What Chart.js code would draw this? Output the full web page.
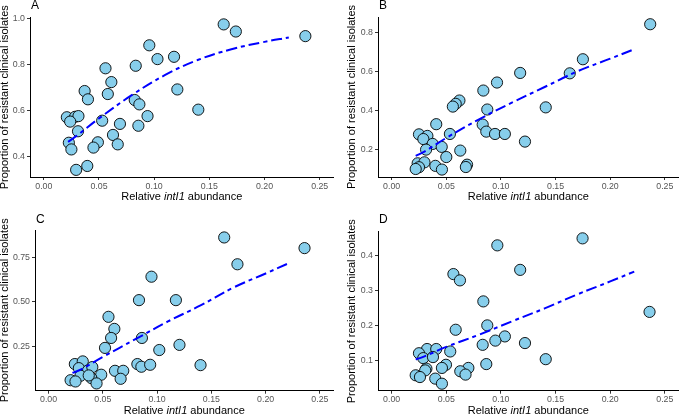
<!DOCTYPE html>
<html>
<head>
<meta charset="utf-8">
<script src="https://cdn.jsdelivr.net/npm/chart.js@4.4.1/dist/chart.umd.min.js"></script>
<style>
body { margin: 0; background: #fff; }
#wrap { position: relative; width: 685px; height: 415px; overflow: hidden; }
canvas { position: absolute; }
</style>
</head>
<body>
<div id="wrap">
  <canvas id="pA" width="340" height="205" style="left:0;top:0"></canvas>
  <canvas id="pB" width="345" height="205" style="left:340px;top:0"></canvas>
  <canvas id="pC" width="340" height="210" style="left:0;top:205px"></canvas>
  <canvas id="pD" width="345" height="210" style="left:340px;top:205px"></canvas>
</div>
<script>
"use strict";
var FONT = "'Liberation Sans', Arial, sans-serif";

// shared x axis
var xTicks = [0, 0.05, 0.10, 0.15, 0.20, 0.25];
var xTickLabels = ["0.00", "0.05", "0.10", "0.15", "0.20", "0.25"];
var fitX = [0.022, 0.03, 0.05, 0.08, 0.11, 0.14, 0.17, 0.20, 0.222];

// A
var aX = [0.163,0.174,0.237,0.0956,0.103,0.118,0.0833,0.0559,0.0612,0.121,0.037,0.058,0.040,0.0824,0.0866,0.140,0.0209,0.0284,0.0314,0.0239,0.0529,0.094,0.069,0.0857,0.031,0.0627,0.049,0.067,0.0227,0.025,0.045,0.0394,0.0293];
var aY = [0.974,0.943,0.923,0.883,0.823,0.833,0.794,0.783,0.723,0.691,0.684,0.671,0.648,0.645,0.626,0.603,0.570,0.572,0.575,0.551,0.555,0.575,0.541,0.533,0.509,0.493,0.461,0.452,0.459,0.430,0.438,0.358,0.341];
var aFit = [0.463, 0.49, 0.565, 0.667, 0.754, 0.82, 0.866, 0.898, 0.917];
var aTicks = [0.4, 0.6, 0.8, 1.0];
var aTickLabels = ["0.4", "0.6", "0.8", "1.0"];

// B
var bX = [0.2366,0.175,0.163,0.1176,0.0964,0.0839,0.062,0.0586,0.056,0.0875,0.141,0.0408,0.0833,0.0866,0.0946,0.1036,0.0533,0.025,0.0327,0.029,0.0375,0.0458,0.122,0.0315,0.0628,0.050,0.0238,0.030,0.025,0.022,0.040,0.046,0.069,0.0679];
var bY = [0.841,0.662,0.590,0.592,0.543,0.502,0.451,0.434,0.420,0.405,0.416,0.330,0.328,0.292,0.280,0.280,0.280,0.278,0.270,0.254,0.229,0.214,0.241,0.200,0.195,0.162,0.130,0.135,0.110,0.101,0.117,0.098,0.123,0.111];
var bFit = [0.168, 0.19, 0.26, 0.355, 0.44, 0.52, 0.60, 0.665, 0.713];
var bTicks = [0.2, 0.4, 0.6, 0.8];
var bTickLabels = ["0.2", "0.4", "0.6", "0.8"];

// C
var cX = [0.1618,0.2358,0.174,0.0948,0.0833,0.1173,0.0552,0.0606,0.0576,0.086,0.052,0.1206,0.102,0.0242,0.0315,0.0818,0.0855,0.0936,0.14,0.0279,0.0364,0.0403,0.0485,0.0612,0.0688,0.0294,0.0394,0.0664,0.0203,0.0248,0.0442,0.037];
var cY = [0.863,0.803,0.712,0.642,0.510,0.510,0.416,0.348,0.297,0.297,0.241,0.258,0.229,0.150,0.165,0.150,0.135,0.146,0.144,0.127,0.114,0.133,0.090,0.112,0.112,0.084,0.071,0.067,0.059,0.052,0.041,0.086];
var cFit = [0.10, 0.12, 0.19, 0.29, 0.39, 0.48, 0.58, 0.66, 0.72];
var cTicks = [0.25, 0.50, 0.75];
var cTickLabels = ["0.25", "0.50", "0.75"];

// D
var dX = [0.1747,0.0967,0.1176,0.0565,0.0625,0.0839,0.236,0.0875,0.0586,0.1036,0.0949,0.122,0.0833,0.0536,0.0324,0.0408,0.025,0.0289,0.0378,0.141,0.0866,0.0497,0.046,0.0702,0.0318,0.0307,0.0628,0.0676,0.022,0.0259,0.0399,0.046];
var dY = [0.450,0.430,0.360,0.348,0.330,0.270,0.240,0.2015,0.189,0.170,0.158,0.151,0.146,0.127,0.134,0.134,0.122,0.108,0.111,0.105,0.091,0.089,0.080,0.080,0.078,0.073,0.0705,0.061,0.059,0.054,0.0495,0.035];
var dFit = [0.104, 0.113, 0.14, 0.175, 0.213, 0.25, 0.29, 0.327, 0.355];
var dTicks = [0.1, 0.2, 0.3, 0.4];
var dTickLabels = ["0.1", "0.2", "0.3", "0.4"];

// panel letter + x title (italic gene name)
var panelText = {
    id: "panelText",
    afterDraw: function(chart, args, o) {
        var c = chart.ctx, a = chart.chartArea;
        c.save();
        c.fillStyle = "#000";
        c.textBaseline = "alphabetic";
        c.textAlign = "left";
        c.font = "12px " + FONT;
        c.fillText(o.letter, a.left + 1, o.letterY);
        var parts = [["Relative ", ""], ["intI1", "italic "], [" abundance", ""]];
        var w = 0;
        parts.forEach(function(p) { c.font = p[1] + "11px " + FONT; w += c.measureText(p[0]).width; });
        var x = (a.left + a.right) / 2 - w / 2, y = a.bottom + 23;
        parts.forEach(function(p) {
            c.font = p[1] + "11px " + FONT;
            c.fillText(p[0], x, y);
            x += c.measureText(p[0]).width;
        });
        c.restore();
    }
};

function makePanel(id, letter, xs, ys, fit, yTicks, yLabels, yMin, yMax, box) {
    var pts = xs.map(function(x, i) { return {x: x, y: ys[i]}; });
    var line = fitX.map(function(x, i) { return {x: x, y: fit[i]}; });
    return new Chart(document.getElementById(id).getContext("2d"), {
        type: "scatter",
        data: {
            datasets: [{
                data: line,
                showLine: true,
                pointRadius: 0,
                borderColor: "#0000FF",
                borderWidth: 2,
                borderDash: [11, 4, 4, 4],
                tension: 0.4,
                fill: false
            }, {
                data: pts,
                pointRadius: 5.6,
                pointBackgroundColor: "#87CEEB",
                pointBorderColor: "#000",
                pointBorderWidth: 0.9
            }]
        },
        options: {
            responsive: false,
            animation: false,
            devicePixelRatio: 1,
            layout: { padding: { left: box.left, top: box.top, right: box.right, bottom: 0 } },
            plugins: {
                legend: { display: false },
                tooltip: { enabled: false },
                panelText: { letter: letter, letterY: box.letterY }
            },
            scales: {
                x: {
                    type: "linear",
                    min: -0.0125,
                    max: 0.2625,
                    afterBuildTicks: function(s) { s.ticks = xTicks.map(function(v) { return {value: v}; }); },
                    afterFit: function(s) { s.height = box.xh; },
                    ticks: {
                        padding: 1,
                        color: "#555",
                        font: { family: FONT, size: 8.8 },
                        maxRotation: 0,
                        callback: function(v) { return xTickLabels[xTicks.indexOf(v)]; }
                    },
                    grid: { drawOnChartArea: false, tickLength: 3, color: "#333" },
                    border: { color: "#000", width: 1 }
                },
                y: {
                    type: "linear",
                    min: yMin,
                    max: yMax,
                    afterBuildTicks: function(s) { s.ticks = yTicks.map(function(v) { return {value: v}; }); },
                    afterFit: function(s) { s.width = box.yw; },
                    ticks: {
                        padding: 2,
                        color: "#555",
                        font: { family: FONT, size: 8.8 },
                        callback: function(v) { return yLabels[yTicks.indexOf(v)]; }
                    },
                    grid: { drawOnChartArea: false, tickLength: 3, color: "#333" },
                    border: { color: "#000", width: 1 },
                    title: {
                        display: true,
                        text: "Proportion of resistant clinical isolates",
                        color: "#000",
                        padding: 0,
                        font: { family: FONT, size: 11, lineHeight: 0.85 }
                    }
                }
            }
        },
        plugins: [panelText]
    });
}

makePanel("pA", "A", aX, aY, aFit, aTicks, aTickLabels, 0.31, 1.004,
    { left: 0, yw: 30, top: 17.5, right: 3, xh: 28, letterY: 8.5 });
makePanel("pB", "B", bX, bY, bFit, bTicks, bTickLabels, 0.060, 0.878,
    { left: 7.5, yw: 30.5, top: 17, right: 0.5, xh: 28, letterY: 8.5 });
makePanel("pC", "C", cX, cY, cFit, cTicks, cTickLabels, 0.0, 0.905,
    { left: 0, yw: 35, top: 25, right: 2, xh: 24.3, letterY: 18 });
makePanel("pD", "D", dX, dY, dFit, dTicks, dTickLabels, 0.015, 0.469,
    { left: 7.5, yw: 30.5, top: 26.7, right: 0.5, xh: 24.3, letterY: 18 });
</script>
</body>
</html>
